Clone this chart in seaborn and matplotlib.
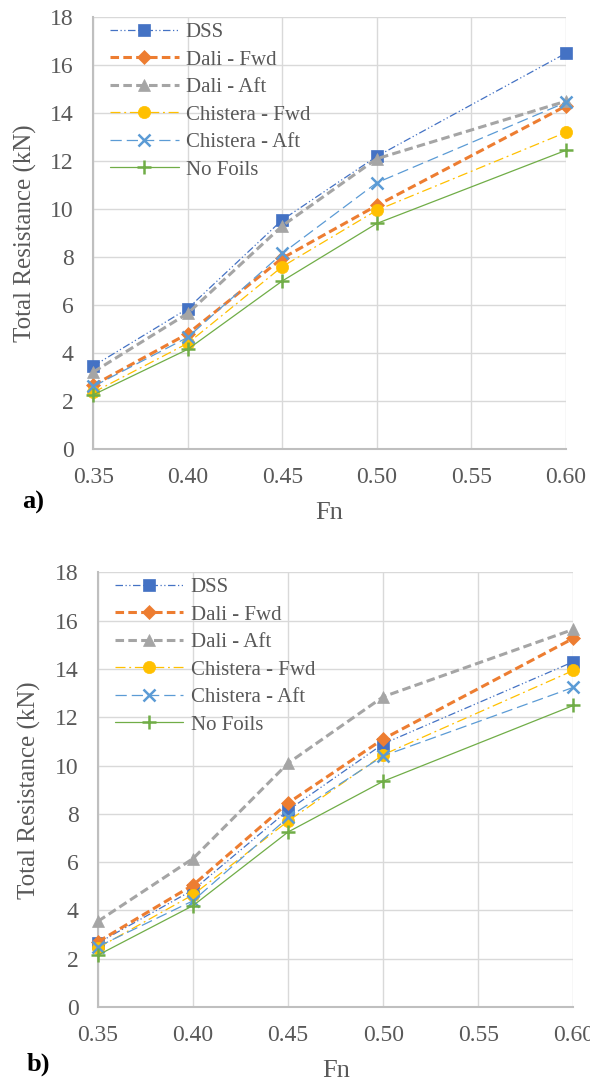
import matplotlib
matplotlib.use("Agg")
import matplotlib.pyplot as plt
import seaborn as sns
import pandas as pd

sns.set_theme(style="white")
plt.rcParams["font.family"] = ["Liberation Serif", "DejaVu Serif"]

fn = [0.35, 0.40, 0.45, 0.50, 0.60]
series_names = ["DSS", "Dali - Fwd", "Dali - Aft", "Chistera - Fwd", "Chistera - Aft", "No Foils"]

# Panel a) total resistance (kN)
a_dss = [3.45, 5.85, 9.55, 12.2, 16.5]
a_dali_fwd = [2.65, 4.8, 7.95, 10.15, 14.3]
a_dali_aft = [3.2, 5.65, 9.3, 12.1, 14.5]
a_chis_fwd = [2.35, 4.4, 7.6, 9.95, 13.2]
a_chis_aft = [2.6, 4.65, 8.15, 11.1, 14.45]
a_no_foils = [2.25, 4.15, 7.0, 9.4, 12.45]

# Panel b) total resistance (kN)
b_dss = [2.65, 4.85, 8.15, 10.9, 14.3]
b_dali_fwd = [2.7, 5.05, 8.45, 11.1, 15.27]
b_dali_aft = [3.55, 6.15, 10.1, 12.85, 15.64]
b_chis_fwd = [2.45, 4.65, 7.7, 10.45, 13.94]
b_chis_aft = [2.5, 4.4, 7.85, 10.4, 13.24]
b_no_foils = [2.15, 4.2, 7.25, 9.35, 12.49]

x_ticks = [0.35, 0.40, 0.45, 0.50, 0.55, 0.60]
y_ticks = [0, 2, 4, 6, 8, 10, 12, 14, 16, 18]

styles = {
    "DSS": dict(color="#4472C4", ls=(0, (6, 2, 1, 2, 1, 2)), lw=0.9, marker="s", ms=8.6),
    "Dali - Fwd": dict(color="#ED7D31", ls=(0, (2.8, 1.4)), lw=2.2, marker="D", ms=7.5),
    "Dali - Aft": dict(color="#A5A5A5", ls=(0, (2.8, 1.4)), lw=2.2, marker="^", ms=9),
    "Chistera - Fwd": dict(color="#FFC000", ls=(0, (8, 3, 1.5, 3)), lw=0.9, marker="o", ms=8.8),
    "Chistera - Aft": dict(color="#5B9BD5", ls=(0, (9, 4)), lw=0.9, marker="x", ms=8.5),
    "No Foils": dict(color="#70AD47", ls="-", lw=0.9, marker="+", ms=9.5),
}


def long_form(values):
    rows = []
    for name, ys in zip(series_names, values):
        for x, y in zip(fn, ys):
            rows.append({"Fn": x, "R": y, "Series": name})
    return pd.DataFrame(rows)


def draw(ax, df, tag, ylab_x, tag_x, tag_y):
    for name in series_names:
        st = styles[name]
        sub = df[df["Series"] == name]
        sns.lineplot(data=sub, x="Fn", y="R", ax=ax, color=st["color"], linestyle=st["ls"],
                     linewidth=st["lw"], marker=st["marker"], markersize=st["ms"],
                     markeredgecolor=st["color"], markeredgewidth=1.8 if st["marker"] in "x+" else 0.5,
                     label=name, clip_on=False, zorder=3)
    ax.set_xlim(0.35, 0.60)
    ax.set_ylim(0, 18)
    ax.set_xticks(x_ticks)
    ax.set_xticklabels([f"{v:.2f}" for v in x_ticks])
    ax.set_yticks(y_ticks)
    ax.grid(True, color="#D9D9D9", linewidth=1.0)
    for s in ["top", "right"]:
        ax.spines[s].set_visible(False)
    for s in ["left", "bottom"]:
        ax.spines[s].set_color("#BFBFBF")
        ax.spines[s].set_linewidth(1.5)
    ax.tick_params(axis="both", labelsize=17, colors="#595959", length=0)
    ax.tick_params(axis="x", pad=13)
    ax.tick_params(axis="y", pad=14)
    ax.set_xlabel("Fn", fontsize=19, color="#595959", labelpad=10)
    ax.set_ylabel("Total Resistance (kN)", fontsize=18, color="#595959")
    ax.yaxis.set_label_coords(ylab_x, 0.5)
    leg = ax.legend(loc="upper left", frameon=False, fontsize=15, handlelength=3.3,
                    handletextpad=0.35, labelspacing=0.38, borderaxespad=0.0,
                    borderpad=0.0, bbox_to_anchor=(0.035, 0.988))
    for t in leg.get_texts():
        t.set_color("#595959")
    ax.text(tag_x, tag_y, tag, transform=ax.transAxes, fontsize=19, fontweight="bold",
            color="black", ha="left", va="center")


fig = plt.figure(figsize=(5.90, 10.84), dpi=100)
ax_a = fig.add_axes([0.158, 0.586, 0.801, 0.398])
ax_b = fig.add_axes([0.166, 0.071, 0.806, 0.401])

draw(ax_a, long_form([a_dss, a_dali_fwd, a_dali_aft, a_chis_fwd, a_chis_aft, a_no_foils]),
     "a)", -0.120, -0.150, -0.125)
draw(ax_b, long_form([b_dss, b_dali_fwd, b_dali_aft, b_chis_fwd, b_chis_aft, b_no_foils]),
     "b)", -0.120, -0.151, -0.132)

fig.savefig("out.png", dpi=100)
